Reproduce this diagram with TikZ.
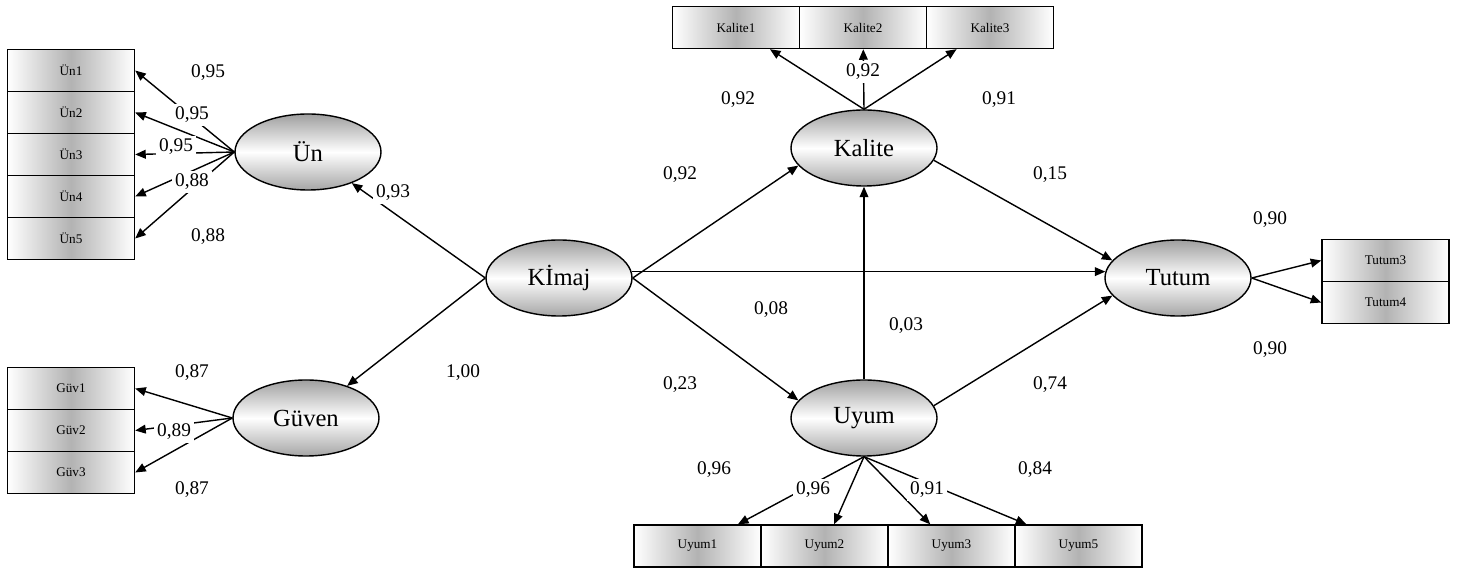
\documentclass[tikz,border=0pt]{standalone}
\usepackage{fontspec}
\setmainfont{Liberation Serif}
\usetikzlibrary{arrows.meta}
\usetikzlibrary{shapes.geometric}

\begin{document}
\begin{tikzpicture}[latent/.style = {draw, ellipse, line width=0.8pt, minimum width=2.92cm, minimum height=1.52cm, inner sep=0pt, top color=gray!75, bottom color=gray!70, middle color=white, font=\fontsize{14}{16}\selectfont},
	ind/.style = {draw, rectangle, line width=0.8pt, minimum width=2.54cm, minimum height=0.84cm, inner sep=0pt, left color=white, right color=white, middle color=gray!60, font=\fontsize{7.5}{8}\selectfont},
	coef/.style = {fill=white, inner sep=2pt, font=\fontsize{11}{13}\selectfont},
	arr/.style = {-{Triangle[length=6pt,width=5pt]}, line width=0.8pt}]
					\useasboundingbox (0,0) rectangle (29.14,11.4);
					\begin{scope}[every node/.style={latent}]
						\node (un) at (6.16,8.36) {Ün};
						\node (guven) at (6.12,3.04) {Güven};
						\node (kimaj) at (11.18,5.84) {Kİmaj};
						\node (kalite) at (17.28,8.44) {Kalite};
						\node (uyum) at (17.28,3.04) {Uyum};
						\node (tutum) at (23.56,5.84) {Tutum};
					\end{scope}
					\begin{scope}[every node/.style={ind}]
						\node (un1) at (1.42,9.99) {Ün1};
						\node (un2) at (1.42,9.15) {Ün2};
						\node (un3) at (1.42,8.31) {Ün3};
						\node (un4) at (1.42,7.47) {Ün4};
						\node (un5) at (1.42,6.63) {Ün5};
						\node (guv1) at (1.42,3.63) {Güv1};
						\node (guv2) at (1.42,2.79) {Güv2};
						\node (guv3) at (1.42,1.95) {Güv3};
						\node (kal1) at (14.72,10.85) {Kalite1};
						\node (kal2) at (17.26,10.85) {Kalite2};
						\node (kal3) at (19.80,10.85) {Kalite3};
						\node (uy1) at (13.95,0.48) {Uyum1};
						\node (uy2) at (16.49,0.48) {Uyum2};
						\node (uy3) at (19.03,0.48) {Uyum3};
						\node (uy5) at (21.57,0.48) {Uyum5};
						\node (tut3) at (27.71,6.19) {Tutum3};
						\node (tut4) at (27.71,5.35) {Tutum4};
					\end{scope}
					\draw [arr] (kimaj.west) -- (un);
					\draw [arr] (kimaj.west) -- (guven);
					\draw [arr] (kimaj.east) -- (kalite.195);
					\draw [arr] (kimaj.east) -- (uyum.165);
					\draw [arr] (kimaj.5) -- (tutum.175);
					\draw [arr] (uyum.north) -- (kalite.south);
					\draw [arr] (kalite.-10) -- (tutum.165);
					\draw [arr] (uyum.10) -- (tutum.195);
					\draw [arr] (un.west) -- (un1.east);
					\draw [arr] (un.west) -- (un2.east);
					\draw [arr] (un.west) -- (un3.east);
					\draw [arr] (un.west) -- (un4.east);
					\draw [arr] (un.west) -- (un5.east);
					\draw [arr] (guven.west) -- (guv1.east);
					\draw [arr] (guven.west) -- (guv2.east);
					\draw [arr] (guven.west) -- (guv3.east);
					\draw [arr] (kalite.north) -- (kal1);
					\draw [arr] (kalite.north) -- (kal2);
					\draw [arr] (kalite.north) -- (kal3);
					\draw [arr] (uyum.south) -- (uy1);
					\draw [arr] (uyum.south) -- (uy2);
					\draw [arr] (uyum.south) -- (uy3);
					\draw [arr] (uyum.south) -- (uy5);
					\draw [arr] (tutum.east) -- (tut3.west);
					\draw [arr] (tutum.east) -- (tut4.west);
					\begin{scope}[every node/.style={coef}]
						\node (c1) at (4.16,9.94) {0,95};
						\node (c2) at (3.84,9.10) {0,95};
						\node (c3) at (3.52,8.46) {0,95};
						\node (c4) at (3.84,7.76) {0,88};
						\node (c5) at (4.16,6.66) {0,88};
						\node (c6) at (7.86,7.54) {0,93};
						\node (c7) at (9.26,3.94) {1,00};
						\node (c8) at (3.84,3.94) {0,87};
						\node (c9) at (3.48,2.76) {0,89};
						\node (c10) at (3.84,1.60) {0,87};
						\node (c11) at (13.60,7.90) {0,92};
						\node (c12) at (15.42,5.20) {0,08};
						\node (c13) at (13.60,3.70) {0,23};
						\node (c14) at (18.12,4.88) {0,03};
						\node (c15) at (21.00,7.90) {0,15};
						\node (c16) at (21.00,3.70) {0,74};
						\node (c17) at (14.76,9.40) {0,92};
						\node (c18) at (17.26,9.96) {0,92};
						\node (c19) at (19.98,9.40) {0,91};
						\node (c20) at (14.28,2.00) {0,96};
						\node (c21) at (16.26,1.60) {0,96};
						\node (c22) at (18.54,1.60) {0,91};
						\node (c23) at (20.70,2.00) {0,84};
						\node (c24) at (25.40,7.00) {0,90};
						\node (c25) at (25.40,4.40) {0,90};
					\end{scope}
				\end{tikzpicture}
\end{document}
